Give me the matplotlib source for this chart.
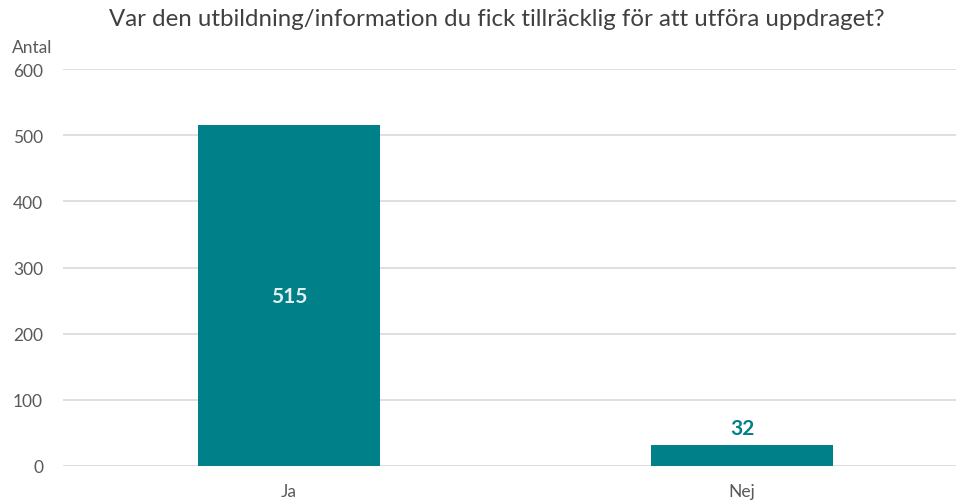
import matplotlib
matplotlib.use("Agg")
import matplotlib.pyplot as plt

categories = ["Ja", "Nej"]
values = [515, 32]
yticks = [0, 100, 200, 300, 400, 500, 600]
title = "Var den utbildning/information du fick tillräcklig för att utföra uppdraget?"

plt.rcParams['font.family'] = ['Lato', 'DejaVu Sans']
teal = "#00818A"
gray = "#595959"

fig = plt.figure(figsize=(9.56, 5.02), dpi=100)
ax = fig.add_axes([62.5/956, 35/502, 906/956, 397/502])
x = list(range(len(categories)))
bars = ax.bar(x, values, width=0.40, color=teal, zorder=3)
ax.set_xlim(-0.5, 1.5)
ax.set_ylim(0, 600)
ax.set_yticks(yticks)
ax.set_xticks(x)
ax.set_xticklabels(categories)
ax.grid(axis='y', color="#D9D9D9", linewidth=1.2, zorder=0)
for s in ax.spines.values():
    s.set_visible(False)
ax.tick_params(axis='both', length=0, labelsize=12.5, colors=gray)
ax.tick_params(axis='y', pad=14)
ax.tick_params(axis='x', pad=12)

for xi, v in zip(x, values):
    if v > 100:
        ax.text(xi, v/2, str(v), ha='center', va='center', fontsize=15, fontweight='bold', color="#E6EEEE", zorder=4)
    else:
        ax.text(xi, v + 11, str(v), ha='center', va='bottom', fontsize=15, fontweight='bold', color=teal, zorder=4)

fig.text(32/956, 1 - 48/502, "Antal", ha='center', va='center', fontsize=12.5, color=gray)
fig.text(497/956, 1 - 19/502, title, ha='center', va='center', fontsize=17.3, color="#404040")

fig.savefig("out.png", dpi=100)
